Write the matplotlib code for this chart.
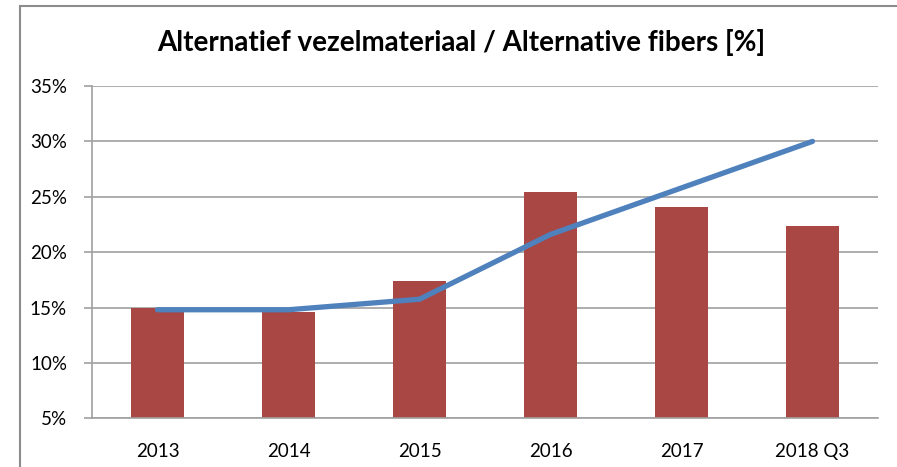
import matplotlib
matplotlib.use("Agg")
import matplotlib.pyplot as plt
from matplotlib.patches import Rectangle
from matplotlib.ticker import FuncFormatter

categories = ["2013", "2014", "2015", "2016", "2017", "2018 Q3"]
bar_values = [15.0, 14.6, 17.4, 25.4, 24.1, 22.4]
line_values = [14.8, 14.8, 15.75, 21.6, 25.8, 30.0]
yticks = [5, 10, 15, 20, 25, 30, 35]
title = "Alternatief vezelmateriaal / Alternative fibers [%]"

W, H = 897, 467
fig = plt.figure(figsize=(W / 100, H / 100), dpi=100)
plt.rcParams['font.family'] = ['Lato', 'DejaVu Sans']

# outer chart frame
fig.patches.append(Rectangle((20 / W, -0.1), 1.2, (H - 6) / H + 0.1, transform=fig.transFigure,
                             fill=False, edgecolor='#8c8c8c', linewidth=1.5))

left, right, top, bottom = 92, 878, 86, 418.3
ax = fig.add_axes([left / W, 1 - bottom / H, (right - left) / W, (bottom - top) / H])

x = list(range(len(categories)))
ax.bar(x, [v - 5 for v in bar_values], bottom=5, width=0.4, color='#A84744', zorder=2)
ax.plot(x, line_values, color='#4F81BD', linewidth=3.8, solid_capstyle='round', zorder=3)

ax.set_xlim(-0.5, len(categories) - 0.5)
ax.set_ylim(5, 35)
ax.set_yticks(yticks)
ax.yaxis.set_major_formatter(FuncFormatter(lambda v, p: f"{int(v)}%"))
ax.set_xticks(x)
ax.set_xticklabels(categories)
ax.grid(axis='y', color='#a0a0a0', linewidth=1.2, zorder=1)
for s in ['top', 'right']:
    ax.spines[s].set_visible(False)
for s in ['left', 'bottom']:
    ax.spines[s].set_color('#a0a0a0')
    ax.spines[s].set_linewidth(1.2)
ax.tick_params(axis='y', length=6, color='#a0a0a0', width=1.2, labelsize=13.5, pad=12)
ax.tick_params(axis='x', length=0, labelsize=13.5, pad=18)

fig.text(((157 + 765) / 2) / W, 1 - 42 / H, title, ha='center', va='center',
         fontsize=20, fontweight='bold')

fig.savefig("out.png", dpi=100)
